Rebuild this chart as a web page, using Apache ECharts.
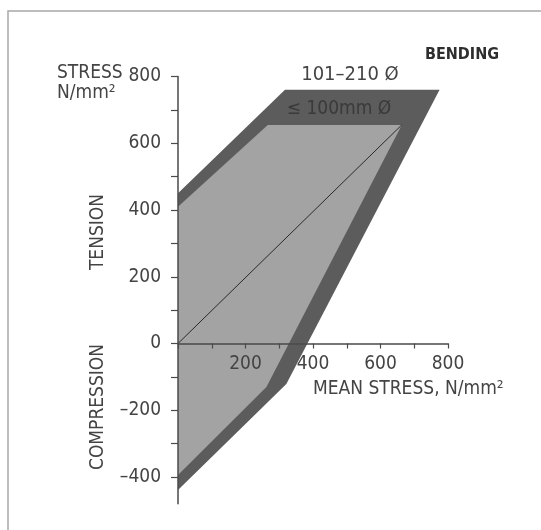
<!DOCTYPE html>
<html>
<head>
<meta charset="utf-8">
<script src="https://cdn.jsdelivr.net/npm/echarts@6/dist/echarts.min.js"></script>
<style>
html,body{margin:0;padding:0;background:#fff;}
#chart{width:541px;height:530px;}
</style>
</head>
<body>
<div id="chart"></div>
<script>
// Outer band: 101–210 mm diameter
const outerMean = [0, 317, 775, 321, 0];
const outerStress = [450, 760, 760, -121, -439];
// Inner region: up to 100 mm diameter
const innerMean = [0, 266, 663, 262, 0];
const innerStress = [410, 655, 655, -130, -394];
// Mean stress diagonal
const diagMean = [0, 663];
const diagStress = [0, 655];
// Ticks / labels
const xTicks = [0, 100, 200, 300, 400, 500, 600, 700, 800];
const xLabels = [200, 400, 600, 800];
const yTicks = [-400, -300, -200, -100, 0, 100, 200, 300, 400, 500, 600, 700, 800];
const yLabels = [-400, -200, 0, 200, 400, 600, 800];

const FONT = '"Liberation Sans Narrow", "DejaVu Sans Condensed", "Liberation Sans", sans-serif';
const TXT = '#444444';

function polySeries(xs, ys, fill) {
  return {
    type: 'custom',
    clip: false,
    silent: true,
    data: xs.map((x, i) => [x, ys[i]]),
    renderItem: function (params, api) {
      if (params.dataIndex !== 0) return null;
      const pts = xs.map((x, i) => api.coord([x, ys[i]]));
      return { type: 'polygon', shape: { points: pts }, style: { fill: fill } };
    }
  };
}

const Y_MIN = -480, Y_MAX = 800;
const gridTop = 76.5, gridBottom = 26.3;
const plotH = 530 - gridTop - gridBottom;
const zeroOffset = -plotH * (0 - Y_MIN) / (Y_MAX - Y_MIN);

const chart = echarts.init(document.getElementById('chart'), null, { renderer: 'canvas' });
chart.setOption({
  backgroundColor: '#fff',
  animation: false,
  grid: { left: 178, right: 93, top: gridTop, bottom: gridBottom },
  xAxis: {
    type: 'value', min: 0, max: 800, interval: 100, z: 10,
    offset: zeroOffset,
    axisLine: { show: true, onZero: false, lineStyle: { color: '#4a4a4a', width: 1.5 } },
    axisTick: { show: true, length: 5, customValues: xTicks, lineStyle: { color: '#4a4a4a', width: 1.2 } },
    axisLabel: { customValues: xLabels, margin: 11, color: TXT, fontFamily: FONT, fontSize: 19 },
    splitLine: { show: false }
  },
  yAxis: {
    type: 'value', min: Y_MIN, max: Y_MAX, z: 10,
    axisLine: { show: true, onZero: false, lineStyle: { color: '#4a4a4a', width: 1.5 } },
    axisTick: { show: true, length: 7, customValues: yTicks, lineStyle: { color: '#4a4a4a', width: 1.2 } },
    axisLabel: {
      customValues: yLabels, margin: 17, color: TXT, fontFamily: FONT, fontSize: 19,
      formatter: v => (v < 0 ? '\u2013' + (-v) : String(v))
    },
    splitLine: { show: false }
  },
  series: [
    polySeries(outerMean, outerStress, '#5c5c5c'),
    polySeries(innerMean, innerStress, '#a3a3a3'),
    {
      type: 'line', silent: true, symbol: 'none',
      data: diagMean.map((x, i) => [x, diagStress[i]]),
      lineStyle: { color: '#2a2a2a', width: 1 }
    }
  ],
  graphic: [
    { type: 'rect', silent: true, shape: { x: 8, y: 11, width: 700, height: 700 },
      style: { fill: 'none', stroke: '#a8a8a8', lineWidth: 1.5 } },
    { type: 'text', x: 462, y: 55, style: { text: 'BENDING', fill: '#2e2e2e', font: 'bold 16px ' + FONT, align: 'center', verticalAlign: 'middle' } },
    { type: 'text', x: 350, y: 75, style: { text: '101\u2013210 \u00d8', fill: TXT, font: '20px ' + FONT, align: 'center', verticalAlign: 'middle' } },
    { type: 'text', x: 339, y: 109, z: 100, style: { text: '\u2264 100mm \u00d8', fill: '#3a3a3a', font: '19px ' + FONT, align: 'center', verticalAlign: 'middle' } },
    { type: 'text', x: 57, y: 73.5, style: { text: 'STRESS', fill: TXT, font: '19px ' + FONT, align: 'left', verticalAlign: 'middle' } },
    { type: 'text', x: 57, y: 93, style: { text: 'N/mm\u00b2', fill: TXT, font: '19px ' + FONT, align: 'left', verticalAlign: 'middle' } },
    { type: 'text', x: 98, y: 232, rotation: Math.PI / 2, style: { text: 'TENSION', fill: TXT, font: '19px ' + FONT, align: 'center', verticalAlign: 'middle' } },
    { type: 'text', x: 98, y: 407, rotation: Math.PI / 2, style: { text: 'COMPRESSION', fill: TXT, font: '19px ' + FONT, align: 'center', verticalAlign: 'middle' } },
    { type: 'text', x: 313, y: 389, style: { text: 'MEAN STRESS, N/mm\u00b2', fill: TXT, font: '19px ' + FONT, align: 'left', verticalAlign: 'middle' } }
  ]
});
</script>
</body>
</html>
